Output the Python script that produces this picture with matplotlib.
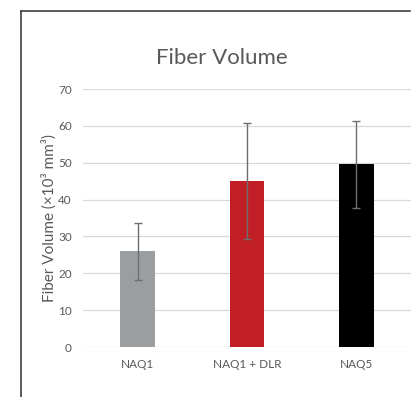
import matplotlib
matplotlib.use("Agg")
import matplotlib.pyplot as plt
from matplotlib.lines import Line2D

groups = ["NAQ1", "NAQ1 + DLR", "NAQ5"]
volume = [26.0, 45.0, 49.6]
volume_err = [7.7, 15.7, 11.8]
bar_colors = ["#9b9ea0", "#c01f26", "#000000"]
yticks = [0, 10, 20, 30, 40, 50, 60, 70]

plt.rcParams["font.family"] = ["Lato", "DejaVu Sans"]

W, H = 411, 397
fig = plt.figure(figsize=(W / 100, H / 100), dpi=100)
ax = fig.add_axes([83 / W, 1 - 347 / H, (411 - 83) / W, (347 - 89) / H])

xs = range(len(groups))
ax.bar(xs, volume, width=0.32, color=bar_colors, zorder=2)
ax.errorbar(xs, volume, yerr=volume_err, fmt="none", ecolor="#6e6e6e",
            elinewidth=1.0, capsize=3, capthick=1.0, zorder=3)

ax.set_xlim(-0.5, 2.5)
ax.set_ylim(0, 70)
ax.set_yticks(yticks)
ax.set_xticks(list(xs))
ax.set_xticklabels(groups)
ax.grid(axis="y", color="#d9d9d9", linewidth=0.9, zorder=0)
for s in ax.spines.values():
    s.set_visible(False)
ax.tick_params(length=0, labelsize=8.5, colors="#595959")
ax.tick_params(axis="y", pad=8)
ax.tick_params(axis="x", pad=9)

ax.set_ylabel("Fiber Volume (×10³ mm³)", fontsize=11, color="#595959")
ax.yaxis.set_label_coords(-0.08, 0.5)
fig.text(222 / W, 1 - 58 / H, "Fiber Volume", ha="center", va="center",
         fontsize=16, color="#595959")

# outer frame (cropped chart border)
fig.add_artist(Line2D([20.5 / W, 20.5 / W], [0, 1 - 10.5 / H], color="#404040", linewidth=1.2))
fig.add_artist(Line2D([20.5 / W, 410 / W], [1 - 10.5 / H, 1 - 10.5 / H], color="#404040", linewidth=1.2))

fig.savefig("out.png", dpi=100)
